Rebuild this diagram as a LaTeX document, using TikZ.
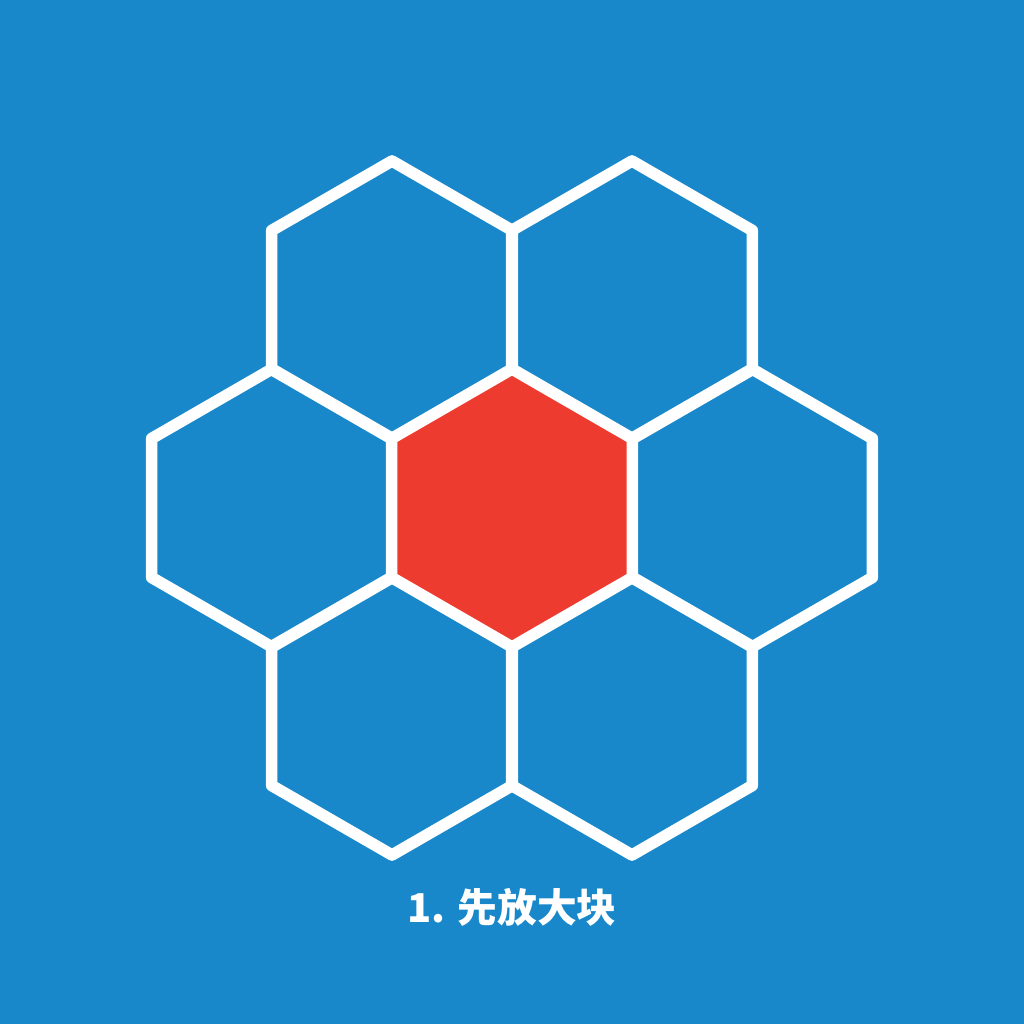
\documentclass[tikz,border=0pt]{standalone}
\usepackage{fontspec}
\usepackage{xcolor}
\newfontfamily\cjk{Noto Sans CJK SC}
\definecolor{bg-blue}{HTML}{1888CB}
\definecolor{hex-red}{HTML}{EE3B2F}
\tikzset{
    hex-cell/.style = {draw=white, line width=3.3pt, line join=round},
    hex-center/.style = {hex-cell, fill=hex-red},
    caption-text/.style = {text=white, font=\cjk\bfseries\fontsize{11.3pt}{14pt}\selectfont},
}

\begin{document}
\begin{tikzpicture}
\fill[bg-blue] (0,0) rectangle (10.24,10.24);
\useasboundingbox (0,0) rectangle (10.24,10.24);
% outer ring
\foreach \cx/\cy in {3.92/7.24, 6.32/7.24, 2.72/5.16, 7.52/5.16, 3.92/3.08, 6.32/3.08}
    \draw[hex-cell] (\cx,\cy) +(90:1.39) -- +(30:1.39) -- +(-30:1.39) -- +(-90:1.39) -- +(-150:1.39) -- +(150:1.39) -- cycle;
% big block in the middle
\draw[hex-center] (5.12,5.16) +(90:1.39) -- +(30:1.39) -- +(-30:1.39) -- +(-90:1.39) -- +(-150:1.39) -- +(150:1.39) -- cycle;
\node[caption-text] (caption) at (5.12,1.17) {1. 先放大块};
\end{tikzpicture}
\end{document}
